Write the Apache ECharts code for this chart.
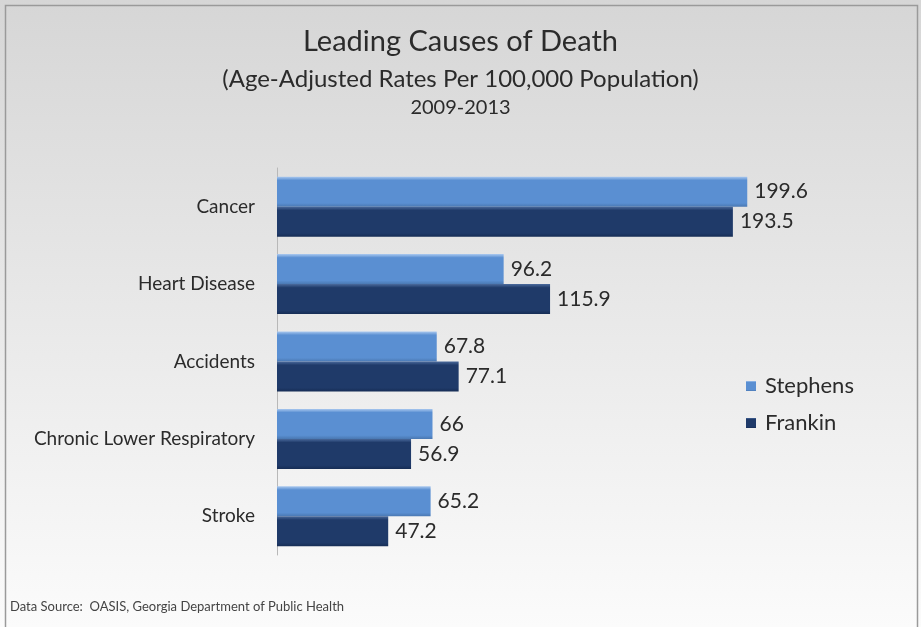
<!DOCTYPE html>
<html>
<head>
<meta charset="utf-8">
<script src="https://cdn.jsdelivr.net/npm/echarts@6/dist/echarts.min.js"></script>
<style>
  html, body { margin: 0; padding: 0; background: #ffffff; }
  #chart { width: 921px; height: 627px; }
</style>
</head>
<body>
<div id="chart"></div>
<script>
// Causes of death, top to bottom
const categories = ['Cancer', 'Heart Disease', 'Accidents', 'Chronic Lower Respiratory', 'Stroke'];
// Age-adjusted rates per 100,000 population, 2009-2013
const stephens = [199.6, 96.2, 67.8, 66, 65.2];
const frankin = [193.5, 115.9, 77.1, 56.9, 47.2];
const seriesNames = ['Stephens', 'Frankin'];

const FONT = 'Lato, "Open Sans", sans-serif';
const TEXT = '#2b2b2b';

function barGradient(light, mid, dark) {
  return new echarts.graphic.LinearGradient(0, 0, 0, 1, [
    { offset: 0, color: light },
    { offset: 0.12, color: mid },
    { offset: 0.88, color: mid },
    { offset: 1, color: dark }
  ]);
}

const chart = echarts.init(document.getElementById('chart'), null, { renderer: 'canvas' });

chart.setOption({
  animation: false,
  backgroundColor: new echarts.graphic.LinearGradient(0, 0, 0, 1, [
    { offset: 0, color: '#d6d6d6' },
    { offset: 1, color: '#fbfbfb' }
  ]),
  graphic: [
    {
      type: 'rect',
      shape: { x: 5.5, y: 5.5, width: 912, height: 640 },
      style: { fill: 'none', stroke: '#9a9a9a', lineWidth: 1.5 },
      silent: true
    },
    {
      type: 'text',
      left: 10, top: 600,
      style: { text: 'Data Source:  OASIS, Georgia Department of Public Health', fill: '#444', font: '13px ' + FONT }
    }
  ],
  title: [
    { text: 'Leading Causes of Death', left: 'center', top: 22,
      textStyle: { fontFamily: FONT, fontSize: 29, fontWeight: 'normal', color: TEXT } },
    { text: '(Age-Adjusted Rates Per 100,000 Population)', left: 'center', top: 62,
      textStyle: { fontFamily: FONT, fontSize: 24, fontWeight: 'normal', color: TEXT } },
    { text: '2009-2013', left: 'center', top: 93,
      textStyle: { fontFamily: FONT, fontSize: 20, fontWeight: 'normal', color: TEXT } }
  ],
  legend: {
    orient: 'vertical',
    left: 741, top: 370,
    itemWidth: 10, itemHeight: 10, itemGap: 15,
    icon: 'rect',
    textStyle: { fontFamily: FONT, fontSize: 22, color: TEXT, padding: [0, 0, 0, 4] },
    data: seriesNames
  },
  grid: { left: 277, top: 168, right: 55, bottom: 72, containLabel: false },
  xAxis: {
    type: 'value', min: 0, max: 250, show: false
  },
  yAxis: {
    type: 'category', inverse: true, data: categories,
    axisLine: { show: true, lineStyle: { color: '#b8b8b8', width: 1 } },
    axisTick: { show: false },
    axisLabel: { fontFamily: FONT, fontSize: 19, color: TEXT, margin: 22 }
  },
  series: [
    {
      name: seriesNames[0], type: 'bar', data: stephens,
      barWidth: 30, barGap: '0%',
      itemStyle: { color: barGradient('#a9c8ef', '#5a8fd2', '#4a78b2') },
      label: { show: true, position: 'right', distance: 7,
        fontFamily: FONT, fontSize: 21, color: TEXT }
    },
    {
      name: seriesNames[1], type: 'bar', data: frankin,
      barWidth: 30, barGap: '0%',
      itemStyle: { color: barGradient('#4a6a9c', '#1f3a69', '#162d55') },
      label: { show: true, position: 'right', distance: 7,
        fontFamily: FONT, fontSize: 21, color: TEXT }
    }
  ]
});
</script>
</body>
</html>
